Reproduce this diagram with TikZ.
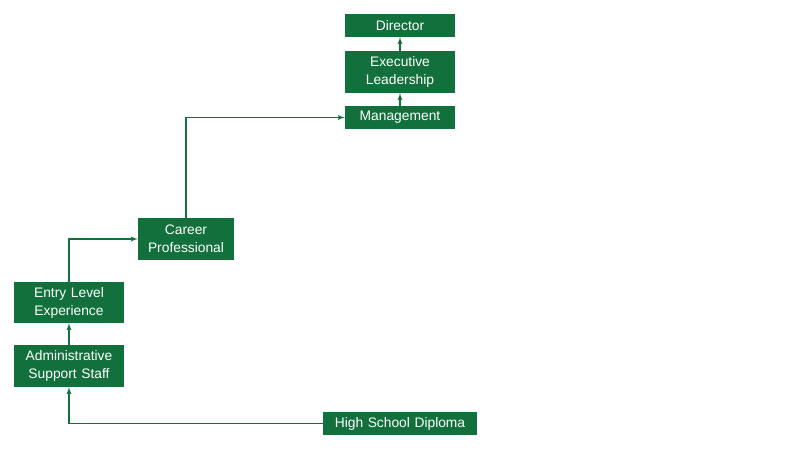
\documentclass[tikz,border=0pt]{standalone}
\usepackage{fontspec}
\setmainfont{Liberation Sans}
\usetikzlibrary{shapes,arrows}
\definecolor{stepgreen}{RGB}{17,112,60}
\tikzstyle{block} = [rectangle, fill=stepgreen, text=white, font=\fontsize{13.8}{18}\selectfont,
    text width=110pt, align=center, inner sep=0pt]
\tikzstyle{line} = [draw=stepgreen, line width=1.4pt, -latex']

\begin{document}
\begin{tikzpicture}[x=1pt, y=-1pt]
    \useasboundingbox (0,0) rectangle (800,450);
    % Place nodes
    \node [block, minimum height=23pt] (director) at (400,25.5) {Director};
    \node [block, minimum height=42pt] (exec) at (400,72) {Executive\\Leadership};
    \node [block, minimum height=23pt] (management) at (400,117.5) {Management};
    \node [block, minimum height=42pt, text width=96pt] (career) at (186,239) {Career\\Professional};
    \node [block, minimum height=41pt] (entry) at (69,302.5) {Entry Level\\Experience};
    \node [block, minimum height=42pt] (admin) at (69,366) {Administrative\\Support Staff};
    \node [block, minimum height=23pt, text width=154pt] (diploma) at (400,423.5) {High School Diploma};

    % Draw edges
    \path [line] (diploma) -| (admin);
    \path [line] (admin) -- (entry);
    \path [line] (entry) |- (career);
    \path [line] (career) |- (management);
    \path [line] (management) -- (exec);
    \path [line] (exec) -- (director);
\end{tikzpicture}
\end{document}
